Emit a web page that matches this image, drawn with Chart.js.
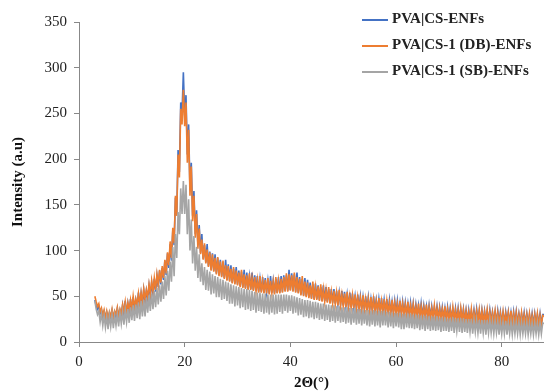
<!DOCTYPE html>
<html>
<head>
<meta charset="utf-8">
<script src="https://cdn.jsdelivr.net/npm/chart.js@4.4.1/dist/chart.umd.min.js"></script>
<style>
  body { margin: 0; background: #fff; }
  #wrap { position: relative; width: 544px; height: 392px; }
  .leg { position: absolute; left: 362px; font: bold 15px "Liberation Serif", serif; color: #222; white-space: nowrap; }
  .leg span { display: inline-block; width: 26px; height: 2px; vertical-align: middle; margin-right: 4px; }
</style>
</head>
<body>
<div id="wrap">
  <canvas id="xrd" width="544" height="392"></canvas>
  <div class="leg" style="top:10px"><span style="background:#4472C4"></span>PVA|CS-ENFs</div>
  <div class="leg" style="top:36px"><span style="background:#ED7D31"></span>PVA|CS-1 (DB)-ENFs</div>
  <div class="leg" style="top:62px"><span style="background:#A5A5A5"></span>PVA|CS-1 (SB)-ENFs</div>
</div>
<script>
// 2-theta, one row = 5 degrees
const angles = [
  3,3.25,3.5,3.75,4,4.25,4.5,4.75,5,5.25,5.5,5.75,6,6.25,6.5,6.75,7,7.25,7.5,7.75,
  8,8.25,8.5,8.75,9,9.25,9.5,9.75,10,10.25,10.5,10.75,11,11.25,11.5,11.75,12,12.25,12.5,12.75,
  13,13.25,13.5,13.75,14,14.25,14.5,14.75,15,15.25,15.5,15.75,16,16.25,16.5,16.75,17,17.25,17.5,17.75,
  18,18.25,18.5,18.75,19,19.25,19.5,19.75,20,20.25,20.5,20.75,21,21.25,21.5,21.75,22,22.25,22.5,22.75,
  23,23.25,23.5,23.75,24,24.25,24.5,24.75,25,25.25,25.5,25.75,26,26.25,26.5,26.75,27,27.25,27.5,27.75,
  28,28.25,28.5,28.75,29,29.25,29.5,29.75,30,30.25,30.5,30.75,31,31.25,31.5,31.75,32,32.25,32.5,32.75,
  33,33.25,33.5,33.75,34,34.25,34.5,34.75,35,35.25,35.5,35.75,36,36.25,36.5,36.75,37,37.25,37.5,37.75,
  38,38.25,38.5,38.75,39,39.25,39.5,39.75,40,40.25,40.5,40.75,41,41.25,41.5,41.75,42,42.25,42.5,42.75,
  43,43.25,43.5,43.75,44,44.25,44.5,44.75,45,45.25,45.5,45.75,46,46.25,46.5,46.75,47,47.25,47.5,47.75,
  48,48.25,48.5,48.75,49,49.25,49.5,49.75,50,50.25,50.5,50.75,51,51.25,51.5,51.75,52,52.25,52.5,52.75,
  53,53.25,53.5,53.75,54,54.25,54.5,54.75,55,55.25,55.5,55.75,56,56.25,56.5,56.75,57,57.25,57.5,57.75,
  58,58.25,58.5,58.75,59,59.25,59.5,59.75,60,60.25,60.5,60.75,61,61.25,61.5,61.75,62,62.25,62.5,62.75,
  63,63.25,63.5,63.75,64,64.25,64.5,64.75,65,65.25,65.5,65.75,66,66.25,66.5,66.75,67,67.25,67.5,67.75,
  68,68.25,68.5,68.75,69,69.25,69.5,69.75,70,70.25,70.5,70.75,71,71.25,71.5,71.75,72,72.25,72.5,72.75,
  73,73.25,73.5,73.75,74,74.25,74.5,74.75,75,75.25,75.5,75.75,76,76.25,76.5,76.75,77,77.25,77.5,77.75,
  78,78.25,78.5,78.75,79,79.25,79.5,79.75,80,80.25,80.5,80.75,81,81.25,81.5,81.75,82,82.25,82.5,82.75,
  83,83.25,83.5,83.75,84,84.25,84.5,84.75,85,85.25,85.5,85.75,86,86.25,86.5,86.75,87,87.25,87.5,87.75,
  88];

// PVA|CS-ENFs (blue)
const csEnfs = [
  46,40,36,39,31,35,27,33,25,32,24,31,26,34,25,32,27,36,26,34,
  28,40,30,45,29,42,32,47,33,49,35,46,38,54,39,53,41,57,44,56,
  47,62,50,65,53,69,55,72,60,78,63,81,68,89,73,97,81,107,89,122,
  106,158,140,210,186,262,250,295,248,270,205,238,166,196,138,165,118,144,106,128,
  97,118,91,106,87,107,83,99,79,97,78,96,75,92,73,90,72,87,70,90,
  68,85,67,84,65,80,64,82,63,78,61,77,60,79,59,76,58,72,58,76,
  57,73,56,72,55,69,55,71,54,70,54,67,53,72,54,67,53,69,54,71,
  54,72,55,73,56,73,56,79,57,75,56,74,55,76,54,71,52,69,51,70,
  50,68,49,65,48,63,47,64,47,62,46,60,45,62,45,60,44,58,43,58,
  43,58,42,56,41,54,41,56,40,55,39,52,39,54,38,53,38,50,37,52,
  37,50,36,49,36,50,35,49,35,47,35,50,34,46,34,47,34,48,33,46,
  33,47,32,46,32,44,32,45,31,45,31,43,31,44,30,43,30,42,30,43,
  29,42,29,41,29,40,28,42,28,40,28,39,27,40,27,39,27,38,27,39,
  26,38,26,38,26,37,25,38,25,37,25,36,25,37,24,37,24,36,24,36,
  23,35,23,35,23,34,23,35,23,36,22,34,22,35,22,34,22,34,22,35,
  22,33,22,33,21,34,21,33,21,32,21,33,21,33,21,32,20,33,20,33,
  20,31,20,31,20,32,20,31,19,30,19,31,19,31,19,30,19,31,19,30,
  30];

// PVA|CS-1 (DB)-ENFs (orange)
const dbEnfs = [
  50,44,39,42,33,37,29,35,27,34,26,33,28,36,27,34,30,38,29,36,
  31,41,33,44,32,43,35,46,36,50,38,47,40,53,41,54,43,58,46,57,
  49,63,52,67,55,70,57,74,62,79,65,83,70,90,75,98,84,110,92,125,
  108,160,138,205,180,255,238,276,236,262,196,232,160,192,132,160,114,140,102,124,
  96,112,90,108,86,101,82,98,78,96,77,92,74,93,72,88,71,89,69,84,
  67,83,66,80,64,82,63,78,62,76,60,79,59,74,58,73,57,75,57,70,
  56,71,55,68,54,72,54,67,53,68,53,70,52,67,53,66,52,71,53,67,
  53,69,54,71,55,75,55,74,56,73,55,76,54,71,53,69,51,72,50,66,
  49,65,48,62,47,66,46,60,46,61,45,63,44,58,44,57,43,60,42,55,
  42,56,41,54,40,57,40,52,39,53,38,55,38,50,37,51,37,52,36,49,
  36,48,35,51,35,47,34,47,34,49,34,47,33,45,33,48,33,45,32,47,
  32,45,31,43,31,46,31,43,30,42,30,45,30,42,29,41,29,44,29,40,
  28,41,28,39,28,42,27,39,27,38,27,41,26,38,26,37,26,40,26,37,
  25,37,25,36,25,39,24,36,24,35,24,38,24,35,23,35,23,37,23,35,
  22,34,22,33,22,36,22,33,22,34,21,35,21,34,21,33,21,35,21,33,
  21,32,21,34,20,32,20,31,20,33,20,31,20,32,20,34,19,31,19,32,
  19,30,19,32,19,30,19,30,18,31,18,29,18,30,18,31,18,29,18,29,
  28];

// PVA|CS-1 (SB)-ENFs (grey)
const sbEnfs = [
  45,36,30,34,22,31,18,29,16,28,14,29,17,30,15,29,18,31,17,32,
  20,33,19,35,22,36,21,38,24,40,23,41,26,43,25,45,28,46,28,48,
  32,51,34,53,36,56,38,59,41,62,44,66,47,72,51,78,56,88,66,104,
  72,118,92,142,118,168,140,176,140,172,118,156,100,134,86,116,78,104,70,96,
  66,86,62,82,57,79,56,77,52,74,53,72,49,71,49,69,46,68,47,66,
  45,65,42,63,42,62,39,61,40,60,37,59,38,58,35,58,36,57,34,56,
  35,55,32,54,34,54,33,53,31,53,32,52,30,52,32,52,30,52,31,52,
  33,52,31,52,34,52,32,51,34,51,31,50,32,49,29,48,30,47,27,46,
  28,46,26,45,27,44,25,44,26,43,24,42,25,42,23,41,24,41,22,40,
  23,40,21,39,23,39,21,38,22,38,20,38,21,37,19,37,21,37,19,36,
  20,36,18,35,20,35,18,35,17,34,19,35,17,34,18,34,16,34,18,34,
  18,33,16,33,17,32,15,32,17,32,16,32,14,31,14,31,16,31,15,31,
  15,30,14,30,15,30,13,29,14,29,12,29,14,28,12,28,13,28,12,28,
  13,27,11,27,12,27,12,26,11,26,12,27,10,26,12,26,11,26,10,26,
  11,25,10,25,11,25,9,24,11,24,10,24,9,24,10,24,8,24,10,24,
  10,23,9,23,10,23,8,22,9,22,9,23,8,22,9,22,8,22,9,22,
  9,22,8,22,9,21,9,22,8,21,9,21,8,21,9,21,8,21,9,21,
  20];

const yTicks = [0, 50, 100, 150, 200, 250, 300, 350];
const xTicks = [0, 20, 40, 60, 80];

function toPoints(vals) {
  return vals.map((v, i) => ({ x: angles[i], y: v }));
}

const axisColor = '#888888';
const tickFont = { family: 'Liberation Serif', size: 15 };
const titleFont = { family: 'Liberation Serif', size: 15, weight: 'bold' };

new Chart(document.getElementById('xrd'), {
  type: 'line',
  data: {
    datasets: [
      { label: 'PVA|CS-ENFs', data: toPoints(csEnfs), borderColor: '#4472C4', order: 3 },
      { label: 'PVA|CS-1 (DB)-ENFs', data: toPoints(dbEnfs), borderColor: '#ED7D31', order: 2 },
      { label: 'PVA|CS-1 (SB)-ENFs', data: toPoints(sbEnfs), borderColor: '#A5A5A5', order: 1 }
    ]
  },
  options: {
    responsive: false,
    animation: false,
    layout: { padding: { left: 9, top: 22, right: 0, bottom: 0 } },
    elements: {
      point: { radius: 0 },
      line: { borderWidth: 1.6, tension: 0 }
    },
    plugins: {
      legend: { display: false },
      tooltip: { enabled: false }
    },
    scales: {
      x: {
        type: 'linear',
        min: 0,
        max: 88,
        afterFit: (s) => { s.height = 50; },
        afterBuildTicks: (s) => { s.ticks = xTicks.map(v => ({ value: v })); },
        ticks: { color: '#222', font: tickFont, padding: 6, maxRotation: 0, autoSkip: false, includeBounds: false },
        grid: { drawOnChartArea: false, drawTicks: true, tickLength: 5, color: axisColor },
        border: { color: axisColor },
        title: { display: true, text: '2Θ(°)', color: '#111', font: titleFont, padding: 0 }
      },
      y: {
        min: 0,
        max: 350,
        afterFit: (s) => { s.width = 70; },
        afterBuildTicks: (s) => { s.ticks = yTicks.map(v => ({ value: v })); },
        ticks: { color: '#222', font: tickFont, padding: 7 },
        grid: { drawOnChartArea: false, drawTicks: true, tickLength: 5, color: axisColor },
        border: { color: axisColor },
        title: { display: true, text: 'Intensity (a.u)', color: '#111', font: titleFont, padding: 0 }
      }
    }
  }
});
</script>
</body>
</html>
